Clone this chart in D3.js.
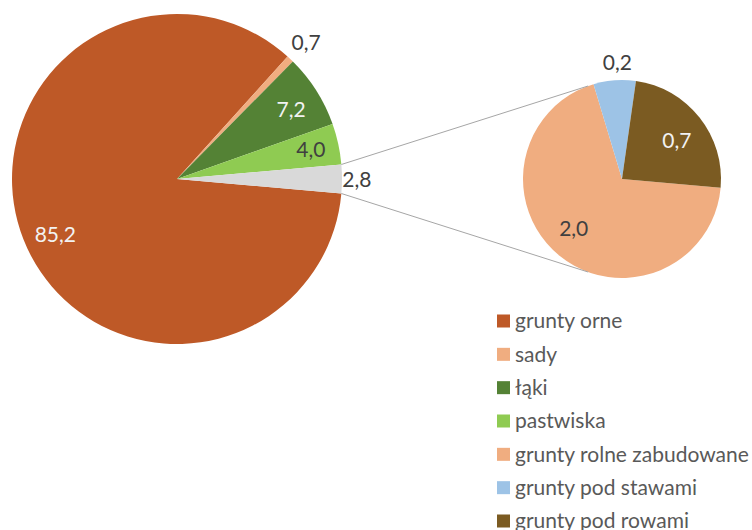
<!DOCTYPE html>
<html>
<head>
<meta charset="utf-8">
<script src="https://cdn.jsdelivr.net/npm/d3@7"></script>
<style>
  html, body { margin: 0; padding: 0; background: #fff; }
  svg { display: block; }
  text { font-family: Lato, "Open Sans", sans-serif; }
</style>
</head>
<body>
<svg id="chart" width="752" height="530"></svg>
<script>
// ---- data ----
const mainCategories = ["grunty orne", "sady", "łąki", "pastwiska", "pozostałe"];
const mainValues     = [85.2, 0.7, 7.2, 4.0, 2.8];
const mainLabels     = ["85,2", "0,7", "7,2", "4,0", "2,8"];

const subCategories  = ["grunty rolne zabudowane", "grunty pod stawami", "grunty pod rowami"];
const subValues      = [2.0, 0.2, 0.7];
const subLabels      = ["2,0", "0,2", "0,7"];

const legendItems    = ["grunty orne", "sady", "łąki", "pastwiska",
                        "grunty rolne zabudowane", "grunty pod stawami", "grunty pod rowami"];

// ---- styles ----
const colorMap = {
  "grunty orne": "#BE5927",
  "sady": "#F0AD80",
  "łąki": "#548235",
  "pastwiska": "#8FCB52",
  "pozostałe": "#D9D9D9",
  "grunty rolne zabudowane": "#F0AD80",
  "grunty pod stawami": "#9DC3E6",
  "grunty pod rowami": "#7B5B22"
};
const lightText = "#F2F2F2", darkText = "#404040";

const svg = d3.select("#chart");
const deg = Math.PI / 180;

// ---- main pie ----
const mainC = { x: 177, y: 179, r: 165 };
const mainTotal = d3.sum(mainValues);
const otherAngle = mainValues[4] / mainTotal * 2 * Math.PI;
const mainStart = Math.PI / 2 + otherAngle / 2;
const mainPie = d3.pie().sort(null).value(d => d.v)
  .startAngle(mainStart).endAngle(mainStart + 2 * Math.PI);
const mainData = mainPie(mainCategories.map((c, i) => ({ c, v: mainValues[i], l: mainLabels[i] })));
const mainArc = d3.arc().innerRadius(0).outerRadius(mainC.r);

const gMain = svg.append("g").attr("transform", `translate(${mainC.x},${mainC.y})`);
gMain.selectAll("path").data(mainData).join("path")
  .attr("d", mainArc)
  .attr("fill", d => colorMap[d.data.c]);

// ---- sub pie ----
const subC = { x: 622, y: 179, r: 99 };
const subStart = 95 * deg;
const subPie = d3.pie().sort(null).value(d => d.v)
  .startAngle(subStart).endAngle(subStart + 2 * Math.PI);
const subData = subPie(subCategories.map((c, i) => ({ c, v: subValues[i], l: subLabels[i] })));
const subArc = d3.arc().innerRadius(0).outerRadius(subC.r);

const gSub = svg.append("g").attr("transform", `translate(${subC.x},${subC.y})`);
gSub.selectAll("path").data(subData).join("path")
  .attr("d", subArc)
  .attr("fill", d => colorMap[d.data.c]);

// ---- connector lines ----
const other = mainData[4];
function pt(c, r, a) { return [c.x + r * Math.sin(a), c.y - r * Math.cos(a)]; }
const p1 = pt(mainC, mainC.r, other.startAngle);
const p2 = pt(mainC, mainC.r, other.endAngle);
const q1 = pt(subC, subC.r, -20 * deg);
const q2 = pt(subC, subC.r, 200 * deg);
svg.append("line").attr("x1", p1[0]).attr("y1", p1[1]).attr("x2", q1[0]).attr("y2", q1[1])
  .attr("stroke", "#A6A6A6").attr("stroke-width", 1);
svg.append("line").attr("x1", p2[0]).attr("y1", p2[1]).attr("x2", q2[0]).attr("y2", q2[1])
  .attr("stroke", "#A6A6A6").attr("stroke-width", 1);

// ---- data labels ----
// label placement: radius factor, angle offset (deg), color per slice
const mainLabelPos = {
  "grunty orne": { r: 0.81, da: -3, col: lightText },
  "sady":        { r: 1.14, da: 0,  col: darkText },
  "łąki":        { r: 0.81, da: 1,  col: lightText },
  "pastwiska":   { r: 0.83, da: 0,  col: darkText },
  "pozostałe":   { r: 1.09, da: 0,  col: darkText }
};
gMain.selectAll("text").data(mainData).join("text")
  .attr("transform", d => {
    const p = mainLabelPos[d.data.c];
    const a = (d.startAngle + d.endAngle) / 2 + p.da * deg;
    const rr = mainC.r * p.r;
    return `translate(${rr * Math.sin(a)},${-rr * Math.cos(a)})`;
  })
  .attr("text-anchor", "middle").attr("dy", "0.36em")
  .attr("font-size", 21)
  .attr("fill", d => mainLabelPos[d.data.c].col)
  .text(d => d.data.l);

const subLabelPos = {
  "grunty rolne zabudowane": { r: 0.70, da: 5,  col: darkText },
  "grunty pod stawami":      { r: 1.18, da: 2,  col: darkText },
  "grunty pod rowami":       { r: 0.68, da: 3,  col: lightText }
};
gSub.selectAll("text").data(subData).join("text")
  .attr("transform", d => {
    const p = subLabelPos[d.data.c];
    const a = (d.startAngle + d.endAngle) / 2 + p.da * deg;
    const rr = subC.r * p.r;
    return `translate(${rr * Math.sin(a)},${-rr * Math.cos(a)})`;
  })
  .attr("text-anchor", "middle").attr("dy", "0.36em")
  .attr("font-size", 21)
  .attr("fill", d => subLabelPos[d.data.c].col)
  .text(d => d.data.l);

// ---- legend ----
const legendY = d3.scalePoint().domain(legendItems).range([321, 521]);
const gLeg = svg.append("g");
const row = gLeg.selectAll("g").data(legendItems).join("g")
  .attr("transform", d => `translate(497,${legendY(d)})`);
row.append("rect").attr("x", 0).attr("y", -6.5).attr("width", 13).attr("height", 13)
  .attr("fill", d => colorMap[d]);
row.append("text").attr("x", 18).attr("dy", "0.35em")
  .attr("font-size", 21).attr("fill", "#595959")
  .text(d => d);
</script>
</body>
</html>
